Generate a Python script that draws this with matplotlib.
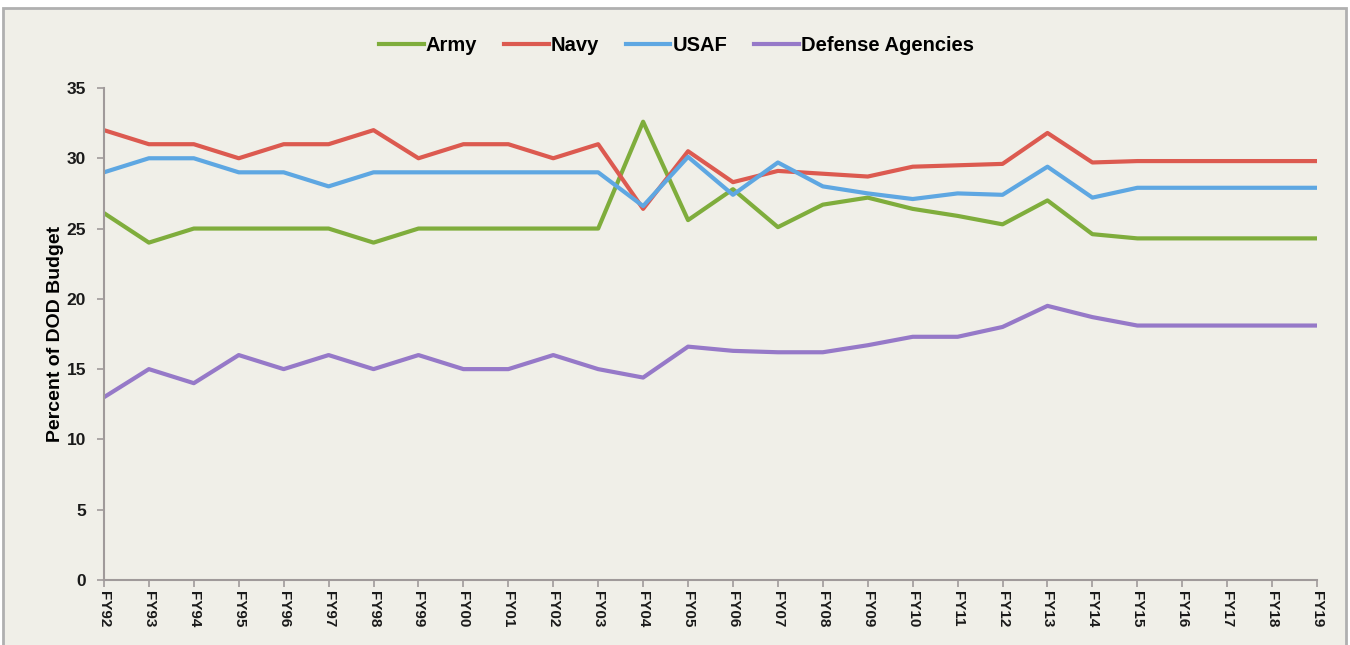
import matplotlib
matplotlib.use("Agg")
import matplotlib.pyplot as plt
from matplotlib.patches import Rectangle

years = ["FY92", "FY93", "FY94", "FY95", "FY96", "FY97", "FY98", "FY99", "FY00",
         "FY01", "FY02", "FY03", "FY04", "FY05", "FY06", "FY07", "FY08", "FY09",
         "FY10", "FY11", "FY12", "FY13", "FY14", "FY15", "FY16", "FY17", "FY18", "FY19"]

army = [26.1, 24, 25, 25, 25, 25, 24, 25, 25, 25, 25, 25, 32.6, 25.6, 27.8, 25.1,
        26.7, 27.2, 26.4, 25.9, 25.3, 27.0, 24.6, 24.3, 24.3, 24.3, 24.3, 24.3]
navy = [32, 31, 31, 30, 31, 31, 32, 30, 31, 31, 30, 31, 26.4, 30.5, 28.3, 29.1,
        28.9, 28.7, 29.4, 29.5, 29.6, 31.8, 29.7, 29.8, 29.8, 29.8, 29.8, 29.8]
usaf = [29, 30, 30, 29, 29, 28, 29, 29, 29, 29, 29, 29, 26.6, 30.1, 27.4, 29.7,
        28.0, 27.5, 27.1, 27.5, 27.4, 29.4, 27.2, 27.9, 27.9, 27.9, 27.9, 27.9]
agencies = [13, 15, 14, 16, 15, 16, 15, 16, 15, 15, 16, 15, 14.4, 16.6, 16.3, 16.2,
            16.2, 16.7, 17.3, 17.3, 18.0, 19.5, 18.7, 18.1, 18.1, 18.1, 18.1, 18.1]

bg = "#f0efe8"
axis_col = "#a09a9a"

plt.rcParams['font.family'] = ['Liberation Sans', 'DejaVu Sans']

fig = plt.figure(figsize=(13.5, 6.45), dpi=100, facecolor="white")
# outer panel with border
fig.add_artist(Rectangle((0.002, -0.01), 0.995, 0.997, transform=fig.transFigure,
                         facecolor=bg, edgecolor="#b0b0b0", linewidth=2, zorder=-10))

ax = fig.add_axes([0.077, 0.1008, 0.8986, 0.7628])
ax.patch.set_alpha(0)

x = list(range(len(years)))
ax.plot(x, army, color="#7fad3c", lw=3, label="Army")
ax.plot(x, navy, color="#dc5a50", lw=3, label="Navy")
ax.plot(x, usaf, color="#5ea7e2", lw=3, label="USAF")
ax.plot(x, agencies, color="#9679c8", lw=3, label="Defense Agencies")

ax.set_xlim(0, len(years) - 1)
ax.set_ylim(0, 35)
ax.set_yticks(range(0, 36, 5))
ax.set_xticks(x)
ax.set_xticklabels(years, rotation=-90, fontweight="bold", fontsize=11)
for t in ax.get_yticklabels():
    t.set_fontweight("bold")
    t.set_fontsize(12.5)

for s in ["top", "right"]:
    ax.spines[s].set_visible(False)
for s in ["left", "bottom"]:
    ax.spines[s].set_color(axis_col)
    ax.spines[s].set_linewidth(1.5)
ax.tick_params(axis="both", colors=axis_col, length=5, width=1.2, labelcolor="#1a1a1a")
ax.tick_params(axis="x", pad=3)
ax.tick_params(axis="y", pad=8)

ax.set_ylabel("Percent of DOD Budget", fontweight="bold", fontsize=14, labelpad=2)

ax.legend(loc="center", bbox_to_anchor=(0.472, 1.087), ncol=4, frameon=False,
          prop={"weight": "bold", "size": 14.5}, handlelength=2.2, columnspacing=1.35,
          handletextpad=0.1)

fig.savefig("out.png", dpi=100, facecolor="white")
